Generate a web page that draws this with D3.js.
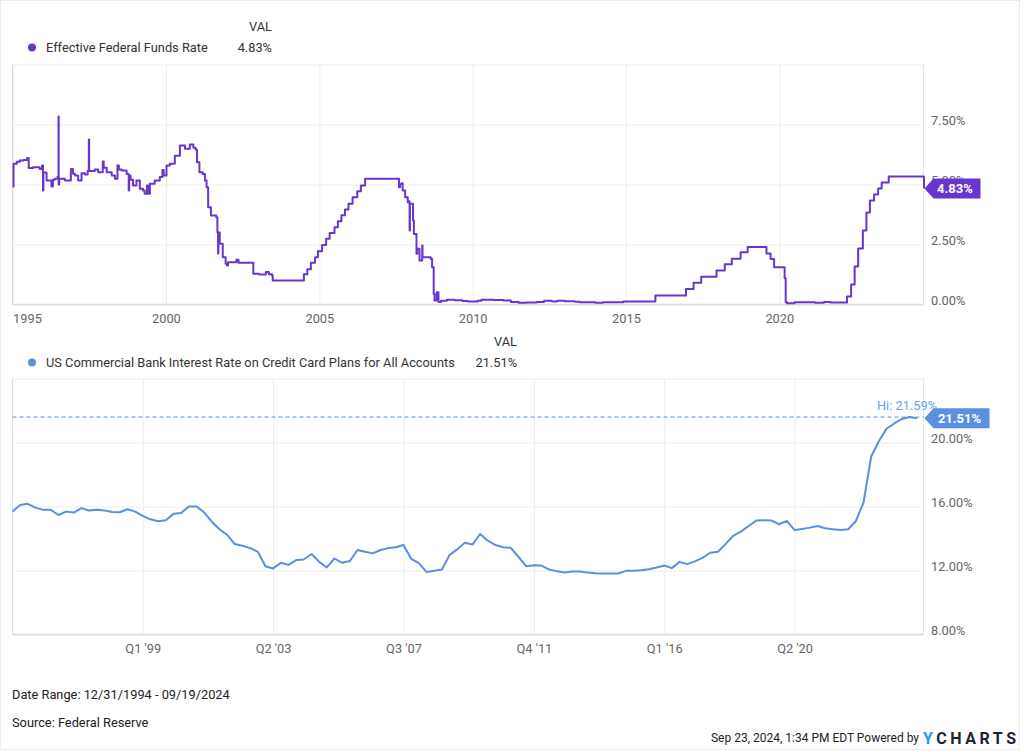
<!DOCTYPE html>
<html><head><meta charset="utf-8">
<script src="https://cdn.jsdelivr.net/npm/d3@7"></script>
<style>body{margin:0;background:#fff}svg{display:block;font-family:Roboto,"Noto Sans",sans-serif}</style>
</head><body><svg id="c" width="1024" height="752"></svg>
<script>
// ---------- DATA ----------
const fedName = "Effective Federal Funds Rate";
const fedLast = 4.83;
const fedDates = [
"1994-12-31","1995-01-12","1995-02-20","1995-03-28","1995-05-10","1995-06-24","1995-07-12","1995-09-01","1995-11-20","1995-12-18",
"1995-12-29","1996-01-03","1996-02-10","1996-03-15","1996-04-08","1996-04-25","1996-05-18","1996-06-20","1996-07-01","1996-07-03",
"1996-07-08","1996-09-14","1996-11-25","1996-12-20","1997-01-12","1997-02-20","1997-04-01","1997-05-11","1997-06-13","1997-06-27",
"1997-07-01","1997-09-05","1997-10-16","1997-12-10","1997-12-22","1998-01-26","1998-03-26","1998-05-04","1998-06-03","1998-06-20",
"1998-07-23","1998-09-20","1998-10-15","1998-10-20","1998-11-06","1998-12-06","1999-01-15","1999-02-24","1999-04-04","1999-04-23",
"1999-05-21","1999-06-02","1999-06-24","1999-08-21","1999-10-20","1999-11-21","1999-12-06","2000-01-08","2000-02-17","2000-04-16",
"2000-06-16","2000-08-15","2000-10-12","2000-11-23","2000-12-20","2001-01-05","2001-02-03","2001-03-14","2001-04-10","2001-04-29",
"2001-05-18","2001-06-20","2001-08-22","2001-09-05","2001-09-13","2001-09-17","2001-10-03","2001-11-08","2001-12-12","2001-12-28",
"2002-01-10","2002-04-20","2002-05-15","2002-11-07","2003-01-15","2003-04-05","2003-05-10","2003-06-18","2003-06-26","2004-07-01",
"2004-08-11","2004-09-22","2004-11-11","2004-12-15","2005-02-03","2005-03-23","2005-05-04","2005-07-01","2005-08-10","2005-09-21",
"2005-11-02","2005-12-14","2006-02-01","2006-03-29","2006-05-11","2006-06-30","2007-08-08","2007-08-20","2007-09-10","2007-09-20",
"2007-10-20","2007-11-20","2007-12-10","2007-12-12","2007-12-16","2008-01-22","2008-02-01","2008-03-03","2008-03-12","2008-04-08",
"2008-05-10","2008-05-14","2008-08-20","2008-09-05","2008-09-24","2008-10-04","2008-10-30","2008-11-20","2008-12-20","2009-03-01",
"2009-06-01","2009-09-01","2009-11-01","2010-03-01","2010-04-15","2010-09-01","2011-01-01","2011-04-01","2011-07-01","2011-10-01",
"2012-02-01","2012-05-01","2012-08-01","2012-10-01","2013-01-01","2013-05-01","2013-07-01","2014-01-01","2014-04-01","2014-12-01",
"2015-06-01","2015-10-01","2015-12-17","2016-12-15","2017-03-16","2017-06-15","2017-12-14","2018-03-22","2018-06-14","2018-09-27",
"2018-12-20","2019-08-01","2019-09-19","2019-10-31","2020-03-04","2020-03-17","2020-04-01","2020-07-01","2021-03-01","2021-06-17",
"2021-09-01","2022-03-17","2022-05-05","2022-06-16","2022-07-28","2022-09-22","2022-11-03","2022-12-15","2023-02-02","2023-03-23",
"2023-05-04","2023-07-27","2024-09-19"
];
const fedRates = [
4.92,5.86,5.95,6.00,6.02,6.10,5.69,5.72,5.65,5.79,
4.75,5.50,5.17,5.17,4.92,5.20,5.24,5.33,7.83,5.00,
5.24,5.17,5.65,5.45,5.37,5.17,5.47,5.42,5.56,6.87,
5.56,5.62,5.51,5.96,5.70,5.51,5.37,5.24,5.79,5.62,
5.58,5.44,4.75,5.37,5.20,4.96,5.17,4.82,4.75,4.61,
4.96,4.61,5.03,5.17,5.31,5.60,5.37,5.79,5.86,6.20,
6.62,6.49,6.67,6.53,6.45,5.93,5.51,5.44,5.17,4.89,
4.05,3.71,3.64,3.01,2.12,3.00,2.53,1.97,1.70,1.62,
1.76,1.86,1.74,1.28,1.25,1.35,1.26,1.21,1.00,1.26,
1.47,1.74,1.97,2.22,2.48,2.74,2.98,3.22,3.47,3.72,
3.96,4.20,4.47,4.72,4.96,5.24,4.89,5.02,5.05,4.75,
4.47,4.26,4.30,3.08,4.20,3.50,2.94,2.11,2.32,1.83,
2.46,1.97,1.90,1.55,0.44,0.17,0.51,0.10,0.16,0.20,
0.18,0.15,0.12,0.16,0.20,0.19,0.17,0.10,0.07,0.08,
0.10,0.16,0.13,0.16,0.14,0.11,0.09,0.07,0.09,0.12,
0.13,0.12,0.37,0.65,0.91,1.16,1.42,1.68,1.91,2.18,
2.40,2.13,1.90,1.55,1.09,0.10,0.05,0.09,0.07,0.10,
0.08,0.33,0.83,1.58,2.33,3.08,3.83,4.33,4.58,4.83,
5.08,5.33,4.83
];

const ccName = "US Commercial Bank Interest Rate on Credit Card Plans for All Accounts";
const ccLast = 21.51;
const ccHigh = 21.59;
const ccFirstQuarterEnd = "1994-12-31";
const ccRates = [
15.68,16.10,16.17,15.93,15.79,15.79,15.47,15.68,15.62,15.90,
15.75,15.79,15.75,15.66,15.64,15.83,15.68,15.41,15.20,15.08,
15.14,15.54,15.60,16.00,16.00,15.64,15.05,14.58,14.22,13.65,
13.55,13.40,13.17,12.27,12.13,12.48,12.35,12.65,12.69,13.03,
12.54,12.19,12.75,12.48,12.59,13.28,13.17,13.07,13.28,13.40,
13.45,13.59,12.73,12.46,11.91,11.98,12.06,12.96,13.32,13.74,
13.63,14.28,13.86,13.59,13.45,13.42,12.86,12.27,12.33,12.31,
12.06,11.96,11.88,11.94,11.94,11.88,11.83,11.81,11.81,11.81,
11.98,11.98,12.02,12.08,12.19,12.31,12.15,12.54,12.40,12.57,
12.79,13.11,13.17,13.65,14.16,14.43,14.78,15.12,15.14,15.12,
14.89,15.10,14.53,14.60,14.68,14.78,14.64,14.58,14.53,14.58,
15.08,16.25,19.14,20.08,20.86,21.19,21.47,21.59,21.51
];

const dateStart = "1994-12-31";
const dateEnd = "2024-09-19";
const yearTicks = ["1995-01-01","2000-01-01","2005-01-01","2010-01-01","2015-01-01","2020-01-01"];
const yearLabels = ["1995","2000","2005","2010","2015","2020"];
const quarterTicks = ["1999-03-31","2003-06-30","2007-09-30","2011-12-31","2016-03-31","2020-06-30"];
const quarterLabels = ["Q1 '99","Q2 '03","Q3 '07","Q4 '11","Q1 '16","Q2 '20"];
const fedYTicks = [0, 2.5, 5, 7.5, 10];
const ccYTicks = [8, 12, 16, 20, 24];
const dateRangeText = "Date Range: 12/31/1994 - 09/19/2024";
const sourceText = "Source: Federal Reserve";
const stampText = "Sep 23, 2024, 1:34 PM EDT Powered by";

// ---------- DRAW ----------
const parse = d3.timeParse("%Y-%m-%d");
const svg = d3.select("#c");
const PURPLE = "#6a35cf", BLUE = "#5b8fdf";
const X0 = 12.5, X1 = 923.5;
const GRID = "#ededed", AXIS = "#dcdcdc", LBL = "#666";
const FS = 12.8;

// page frame
svg.append("rect").attr("x",0.5).attr("y",0.5).attr("width",1019).attr("height",749)
  .attr("fill","none").attr("stroke","#ececec");

const x = d3.scaleTime().domain([parse(dateStart), parse(dateEnd)]).range([X0, X1 + 0.5]);

function panel(top, bottom, yDomain, yTicks, xTicks, xLabels) {
  const y = d3.scaleLinear().domain(yDomain).range([bottom, top]);
  const g = svg.append("g");
  const ya = g.append("g").attr("transform", `translate(${X1},0)`)
    .call(d3.axisRight(y).tickValues(yTicks).tickSize(-(X1 - X0)).tickPadding(7.5)
      .tickFormat(d => d === yTicks[yTicks.length-1] ? "" : d.toFixed(2) + "%"));
  ya.select(".domain").remove();
  ya.selectAll(".tick line").attr("stroke", GRID);
  ya.selectAll(".tick text").attr("dy","0").attr("fill",LBL).attr("font-size",FS).attr("font-family","Roboto");
  const xd = xTicks.map(parse);
  const xa = g.append("g").attr("transform", `translate(0,${bottom})`)
    .call(d3.axisBottom(x).tickValues(xd).tickSize(-(bottom - top)).tickPadding(9.5)
      .tickFormat((d,i) => xLabels[i]));
  xa.select(".domain").remove();
  xa.selectAll(".tick line").attr("stroke", GRID);
  xa.selectAll(".tick text").attr("fill",LBL).attr("font-size",FS).attr("font-family","Roboto");
  xa.selectAll(".tick text").filter((d,i) => x(d) < X0 + 3).attr("text-anchor","start");
  g.append("line").attr("x1",X0).attr("x2",X0).attr("y1",top).attr("y2",bottom).attr("stroke",AXIS);
  g.append("line").attr("x1",X1).attr("x2",X1).attr("y1",top).attr("y2",bottom).attr("stroke","#e6e6e6");
  g.append("line").attr("x1",X0).attr("x2",X1).attr("y1",bottom).attr("y2",bottom).attr("stroke",AXIS).attr("stroke-width",1.5);
  return y;
}

// ---- top panel ----
const yTop = panel(64.5, 304.5, [0, 10], fedYTicks, yearTicks, yearLabels);
const fedData = fedDates.map((d,i) => ({date: parse(d), v: fedRates[i]}));
svg.append("path").datum(fedData)
  .attr("fill","none").attr("stroke",PURPLE).attr("stroke-width",2).attr("stroke-linejoin","round")
  .attr("d", d3.line().curve(d3.curveStepAfter).x(d => x(d.date)).y(d => yTop(d.v)));

// ---- bottom panel ----
const yBot = panel(378.5, 634.5, [8, 24], ccYTicks, quarterTicks, quarterLabels);
const q0 = d3.timeDay.offset(parse(ccFirstQuarterEnd), 1);
const ccData = ccRates.map((v,i) => ({date: d3.timeDay.offset(d3.timeMonth.offset(q0, 3*i), -1), v}));
svg.append("line").attr("x1",X0).attr("x2",X1).attr("y1",yBot(ccHigh)).attr("y2",yBot(ccHigh))
  .attr("stroke",BLUE).attr("stroke-width",1).attr("stroke-dasharray","4,3");
svg.append("text").attr("x",937).attr("y",yBot(ccHigh) - 7).attr("text-anchor","end")
  .attr("fill","#6c9de6").attr("font-size",FS).text("Hi: " + ccHigh.toFixed(2) + "%");
svg.append("path").datum(ccData)
  .attr("fill","none").attr("stroke",BLUE).attr("stroke-width",2).attr("stroke-linejoin","round")
  .attr("d", d3.line().x(d => x(d.date)).y(d => yBot(d.v)));

// ---- value tags ----
function tag(yv, color, label, w) {
  const tx = X1 + 1, h = 20;
  svg.append("path")
    .attr("d", `M${tx},${yv} L${tx+9},${yv-h/2} L${tx+9+w},${yv-h/2} L${tx+9+w},${yv+h/2} L${tx+9},${yv+h/2} Z`)
    .attr("fill", color);
  svg.append("text").attr("x", tx + 9 + w/2 - 2).attr("y", yv + 4.5).attr("text-anchor","middle")
    .attr("fill","#fff").attr("font-weight","bold").attr("font-size",13).text(label);
}
tag(yTop(fedLast), PURPLE, fedLast.toFixed(2) + "%", 47);
tag(yBot(ccLast), BLUE, ccLast.toFixed(2) + "%", 56);

// ---- legends ----
function legend(yHead, yRow, color, name, val, right) {
  svg.append("text").attr("x",right).attr("y",yHead).attr("text-anchor","end")
    .attr("fill","#333").attr("font-size",FS).text("VAL");
  svg.append("circle").attr("cx",32).attr("cy",yRow-4.5).attr("r",4).attr("fill",color);
  svg.append("text").attr("x",46).attr("y",yRow).attr("fill","#333").attr("font-size",FS).text(name);
  svg.append("text").attr("x",right).attr("y",yRow).attr("text-anchor","end")
    .attr("fill","#333").attr("font-size",FS).text(val);
}
legend(31, 52, PURPLE, fedName, fedLast.toFixed(2) + "%", 272);
legend(346, 367, BLUE, ccName, ccLast.toFixed(2) + "%", 517);

// ---- footer ----
svg.append("text").attr("x",12).attr("y",699).attr("fill","#222").attr("font-size",FS).text(dateRangeText);
svg.append("text").attr("x",12).attr("y",727).attr("fill","#222").attr("font-size",FS).text(sourceText);
svg.append("text").attr("x",919).attr("y",742).attr("text-anchor","end").attr("fill","#222").attr("font-size",12).text(stampText);
const logo = svg.append("text").attr("x",923).attr("y",744).attr("font-size",16).attr("font-weight","bold")
  .attr("textLength",93).attr("lengthAdjust","spacing");
logo.append("tspan").attr("fill","#1a9ee0").text("Y");
logo.append("tspan").attr("fill","#1f2233").text("CHARTS");
</script></body></html>
